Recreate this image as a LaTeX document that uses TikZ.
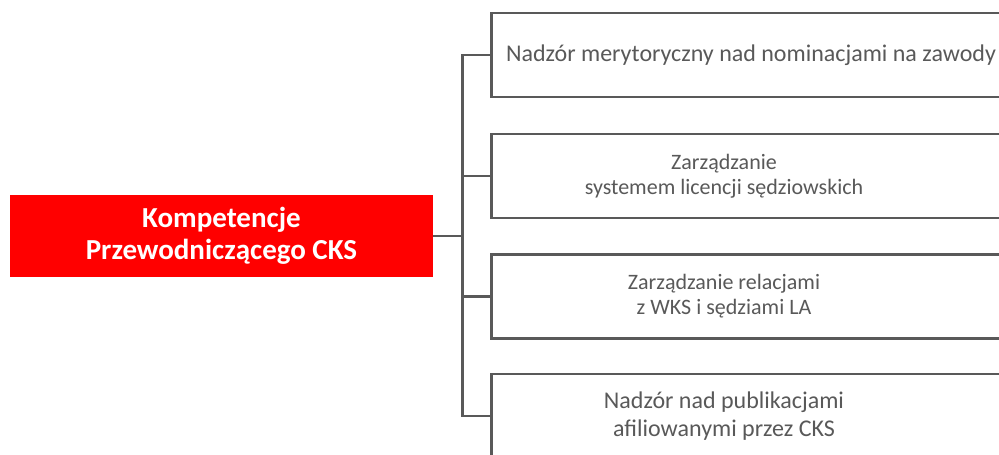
\documentclass[tikz,border=0pt]{standalone}
\usepackage{fontspec}
\setmainfont{Carlito}
\usetikzlibrary{positioning}
\definecolor{cksred}{HTML}{FF0000}
\definecolor{cksgray}{HTML}{595959}
\tikzset{
    headbox/.style={fill=cksred, text=white, font=\bfseries\fontsize{29}{32}\selectfont,
        align=center, minimum width=423pt, minimum height=82pt, inner sep=0pt},
    itembox/.style={draw=cksgray, line width=2.8pt, fill=white, anchor=west,
        minimum width=540pt, minimum height=84pt, inner sep=0pt},
    itemtext/.style={text=cksgray, align=center, inner sep=0pt},
    link/.style={draw=cksgray, line width=2.8pt}
}

\begin{document}
\begin{tikzpicture}[x=1pt,y=-1pt]

     \useasboundingbox (0,0) rectangle (999,455);
     \clip (0,0) rectangle (999,455);

     \node[headbox] (head) at (221.5,236) {Kompetencje\\Przewodniczącego CKS};

     \node[itembox] (b1) at (490,55) {};
     \node[itembox] (b2) at (490,176) {};
     \node[itembox] (b3) at (490,296.5) {};
     \node[itembox] (b4) at (490,416) {};

     \node[itemtext, font=\fontsize{24}{28}\selectfont] (t1) at (751,55) {Nadzór merytoryczny nad nominacjami na zawody};
     \node[itemtext, font=\fontsize{22}{25}\selectfont] (t2) at (724,176) {Zarządzanie\\systemem licencji sędziowskich};
     \node[itemtext, font=\fontsize{22}{25}\selectfont] (t3) at (724,296.5) {Zarządzanie relacjami\\z WKS i sędziami LA};
     \node[itemtext, font=\fontsize{24}{28}\selectfont] (t4) at (724,416) {Nadzór nad publikacjami\\afiliowanymi przez CKS};

     \coordinate (hub) at ([xshift=29pt]head.east);
     \draw[link] (head.east) -- (hub);
     \draw[link] (b1.west) -- (hub |- b1.west) -- (hub |- b4.west) -- (b4.west);
     \draw[link] (hub |- b2.west) -- (b2.west);
     \draw[link] (hub |- b3.west) -- (b3.west);
\end{tikzpicture}
\end{document}
